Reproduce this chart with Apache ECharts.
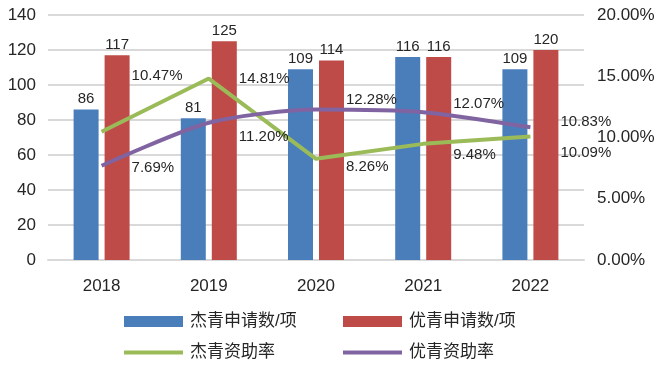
<!DOCTYPE html>
<html><head><meta charset="utf-8">
<script src="https://cdn.jsdelivr.net/npm/echarts@6/dist/echarts.min.js"></script>
<style>html,body{margin:0;padding:0;background:#fff}#c{width:660px;height:368px}</style>
</head><body><div id="c"></div>
<script>
// ---- data ----
const years = ['2018', '2019', '2020', '2021', '2022'];
const jqApply = [86, 81, 109, 116, 109];        // 杰青申请数/项
const yqApply = [117, 125, 114, 116, 120];      // 优青申请数/项
const jqRate = [10.47, 14.81, 8.26, 9.48, 10.09]; // 杰青资助率 (%)
const yqRate = [7.69, 11.20, 12.28, 12.07, 10.83]; // 优青资助率 (%)
const leftTicks = {min: 0, max: 140, interval: 20};
const rightTicks = {min: 0, max: 20, interval: 5};

// ---- label layout (vertical nudges of the rate labels, px) ----
const jqLabelDy = [-56, 0, 8, 11, 16];
const yqLabelDy = [2, 14, -10, -8, -5];

const txt = '#262626';
const font = '"Liberation Sans", Arial, "Noto Sans CJK SC", sans-serif';
const chart = echarts.init(document.getElementById('c'));

function rateData(vals, dys) {
  return vals.map((v, i) => ({value: v, label: {offset: [0, dys[i]]}}));
}
const rateLabel = {
  show: true, position: 'right', distance: 30, color: txt, fontSize: 15, fontFamily: font,
  formatter: p => p.value.toFixed(2) + '%'
};
function legend(name, left, top, h) {
  return {
    data: [name], left: left, top: top, padding: 0, itemWidth: 59, itemHeight: h,
    icon: 'rect', textStyle: {color: txt, fontSize: 17, fontFamily: font, padding: [0, 0, 0, 2]}
  };
}

chart.setOption({
  animation: false,
  textStyle: {fontFamily: font},
  grid: {left: 48, right: 76, top: 15, bottom: 108},
  legend: [
    legend('杰青申请数/项', 124, 313, 11),
    legend('优青申请数/项', 343, 313, 11),
    legend('杰青资助率', 124, 344, 4),
    legend('优青资助率', 343, 344, 4)
  ],
  xAxis: {
    type: 'category', data: years,
    axisTick: {show: false},
    axisLine: {show: true, lineStyle: {color: '#d9d9d9', width: 2}},
    axisLabel: {color: txt, fontSize: 17, margin: 18, fontFamily: font}
  },
  yAxis: [
    {
      type: 'value', min: leftTicks.min, max: leftTicks.max, interval: leftTicks.interval,
      axisLine: {show: false}, axisTick: {show: false},
      axisLabel: {color: txt, fontSize: 17, margin: 12, fontFamily: font},
      splitLine: {lineStyle: {color: '#d9d9d9', width: 2}}
    },
    {
      type: 'value', min: rightTicks.min, max: rightTicks.max, interval: rightTicks.interval,
      axisLine: {show: false}, axisTick: {show: false}, splitLine: {show: false},
      axisLabel: {color: txt, fontSize: 17, margin: 13, fontFamily: font,
        formatter: v => v.toFixed(2) + '%'}
    }
  ],
  series: [
    {
      name: '杰青申请数/项', type: 'bar', data: jqApply, barWidth: 25, barGap: '24%',
      itemStyle: {color: '#4a7ebb'},
      label: {show: true, position: 'top', distance: 3, color: txt, fontSize: 15, fontFamily: font}
    },
    {
      name: '优青申请数/项', type: 'bar', data: yqApply, barWidth: 25, barGap: '24%',
      itemStyle: {color: '#be4b48'},
      label: {show: true, position: 'top', distance: 3, color: txt, fontSize: 15, fontFamily: font}
    },
    {
      name: '杰青资助率', type: 'line', yAxisIndex: 1, data: rateData(jqRate, jqLabelDy),
      symbol: 'circle', symbolSize: 0.01, showSymbol: true,
      lineStyle: {color: '#9bbb59', width: 4}, itemStyle: {color: '#9bbb59'},
      label: rateLabel, z: 3
    },
    {
      name: '优青资助率', type: 'line', yAxisIndex: 1, data: rateData(yqRate, yqLabelDy),
      symbol: 'circle', symbolSize: 0.01, showSymbol: true, smooth: 0.25,
      lineStyle: {color: '#8064a2', width: 4}, itemStyle: {color: '#8064a2'},
      label: rateLabel, z: 4
    }
  ]
});
</script>
</body></html>
